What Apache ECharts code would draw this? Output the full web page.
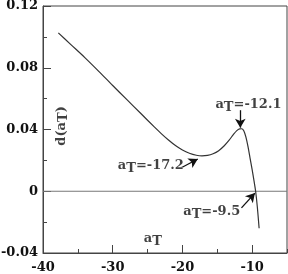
<!DOCTYPE html>
<html>
<head>
<meta charset="utf-8">
<script src="https://cdn.jsdelivr.net/npm/echarts@6/dist/echarts.min.js"></script>
<style>html,body{margin:0;padding:0;background:#fff}#c{width:288px;height:274px}</style>
</head>
<body>
<div id="c"></div>
<script>
// ---- data ----
var curveX = [-37.8,-36,-34,-32,-30,-28,-26,-24,-23,-22,-21,-20,-19,-18,-17.2,-16.4,-15.6,-14.8,-14,-13.3,-12.7,-12.2,-11.8,-11.5,-11.2,-10.9,-10.6,-10.3,-10,-9.75,-9.5,-9.25,-9.0];
var curveY = [0.1026,0.0950,0.0866,0.0777,0.0685,0.0595,0.0505,0.0415,0.0372,0.0332,0.0296,0.0267,0.0246,0.0233,0.0229,0.0232,0.0243,0.0263,0.0295,0.0331,0.0367,0.0393,0.0404,0.0405,0.0392,0.0352,0.0290,0.0215,0.0140,0.0072,0.0000,-0.0105,-0.0240];
var zeroLineX = [-40, -5];
var zeroLineY = [0, 0];
var xTicks = [-40, -30, -20, -10];
var yTicks = [-0.04, 0, 0.04, 0.08, 0.12];
var noteText = ['-12.1', '-17.2', '-9.5', ''];
// ---- annotation placement (data coords) ----
var notePos = [[-10.53, 0.0559], [-24.53, 0.0163], [-15.8, -0.0135], [-24.24, -0.031]];
var yNamePos = [-37.4, 0.0423];
var arrows = [
  [[-11.7, 0.0525], [-11.7, 0.0412]],
  [[-19.96, 0.0157], [-17.8, 0.0209]],
  [[-11.53, -0.0108], [-9.6, -0.0012]]
];

var FONT = 'DejaVu Serif';
var rich = {
  a: {fontFamily: FONT, fontWeight: 'bold', fontSize: 13, color: '#111'},
  t: {fontFamily: FONT, fontWeight: 'bold', fontSize: 13, color: '#111', padding: [5, 0, 0, 0]}
};

var curve = curveX.map(function (x, i) { return [x, curveY[i]]; });
var zero = zeroLineX.map(function (x, i) { return [x, zeroLineY[i]]; });
var notes = notePos.map(function (p, i) { return {value: [p[0], p[1]], txt: noteText[i]}; });

var chart = echarts.init(document.getElementById('c'), null, {renderer: 'canvas'});
var axisCol = '#444';
chart.setOption({
  animation: false,
  grid: {left: 43, right: 1, top: 6, bottom: 21, show: true, borderColor: axisCol, borderWidth: 1, outerBoundsMode: 'none', containLabel: false},
  xAxis: [{
    type: 'value', min: xTicks[0], max: -5, interval: 10, position: 'bottom',
    axisLine: {onZero: false, lineStyle: {color: axisCol, width: 1}},
    axisTick: {inside: true, length: 8, lineStyle: {color: axisCol}},
    splitLine: {show: false},
    axisLabel: {showMaxLabel: false, margin: 8, fontFamily: FONT, fontWeight: 'bold', fontSize: 13, color: '#111'}
  }, {
    type: 'value', min: xTicks[0], max: -5, interval: 5, position: 'bottom', gridIndex: 0,
    axisLine: {show: false, onZero: false},
    axisTick: {inside: true, length: 4, lineStyle: {color: axisCol}},
    splitLine: {show: false},
    axisLabel: {show: false}
  }],
  yAxis: {
    type: 'value', min: yTicks[0], max: yTicks[yTicks.length - 1], interval: 0.04,
    axisLine: {onZero: false, lineStyle: {color: axisCol, width: 1}},
    axisTick: {inside: true, length: 8, lineStyle: {color: axisCol}},
    minorTick: {show: true, splitNumber: 2, length: 4, lineStyle: {color: axisCol}},
    splitLine: {show: false}, minorSplitLine: {show: false},
    axisLabel: {margin: 5, fontFamily: FONT, fontWeight: 'bold', fontSize: 13, color: '#111'}
  },
  series: [{
    type: 'line', data: zero, symbol: 'none', silent: true,
    lineStyle: {color: '#777', width: 1.2}
  }, {
    type: 'line', data: curve, symbol: 'none', smooth: 0.3, silent: true,
    lineStyle: {color: '#333', width: 1.2},
    markLine: {
      silent: true, symbol: ['none', 'arrow'], symbolSize: [8, 9],
      lineStyle: {color: '#111', width: 1.3, type: 'solid'},
      label: {show: false},
      data: arrows.map(function (a) { return [{coord: a[0]}, {coord: a[1]}]; })
    }
  }, {
    type: 'scatter', data: notes, symbolSize: 1, silent: true,
    itemStyle: {color: 'rgba(0,0,0,0)'},
    label: {
      show: true, position: 'inside',
      formatter: function (p) { return '{a|a}{t|T}' + (p.data.txt ? '{a|=' + p.data.txt + '}' : ''); },
      rich: rich
    }
  }, {
    type: 'scatter', data: [yNamePos], symbolSize: 1, silent: true,
    itemStyle: {color: 'rgba(0,0,0,0)'},
    label: {
      show: true, position: 'inside', rotate: 90,
      formatter: '{a|d(a}{t|T}{a|)}',
      rich: rich
    }
  }]
});
</script>
</body>
</html>
